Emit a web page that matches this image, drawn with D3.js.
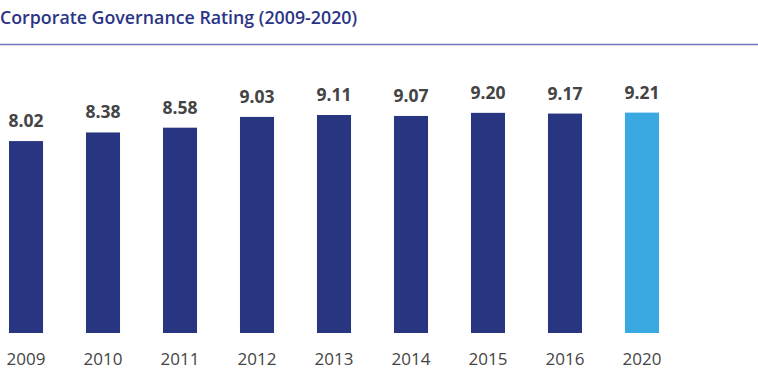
<!DOCTYPE html>
<html>
<head>
<meta charset="utf-8">
<script src="https://cdn.jsdelivr.net/npm/d3@7"></script>
<style>
  body { margin: 0; background: #fff; }
  text { font-family: "Open Sans", "Noto Sans", sans-serif; }
</style>
</head>
<body>
<div id="chart"></div>
<script>
const years = ["2009", "2010", "2011", "2012", "2013", "2014", "2015", "2016", "2020"];
const ratings = [8.02, 8.38, 8.58, 9.03, 9.11, 9.07, 9.20, 9.17, 9.21];
const highlightYear = "2020";

const width = 758, height = 372;
const baseY = 333;

const svg = d3.select("#chart").append("svg")
  .attr("width", width)
  .attr("height", height);

// title + rule
svg.append("text")
  .attr("x", 0)
  .attr("y", 24)
  .attr("fill", "#2b3585")
  .style("font-size", "17.8px")
  .style("font-weight", "600")
  .text("Corporate Governance Rating (2009-2020)");

svg.append("line")
  .attr("x1", 0).attr("x2", width)
  .attr("y1", 44.5).attr("y2", 44.5)
  .attr("stroke", "#7476bf")
  .attr("stroke-width", 1.5);

let x = d3.scaleBand()
  .domain(years)
  .range([9, 659])
  .paddingInner(0.558)
  .paddingOuter(0);

let y = d3.scaleLinear()
  .domain([0, 10])
  .range([baseY, baseY - 239.3]);

let bars = svg.selectAll(".bar")
  .data(years)
  .enter()
  .append("g")
  .attr("class", "bar");

bars.append("rect")
  .attr("x", d => x(d))
  .attr("width", x.bandwidth())
  .attr("y", (d, i) => y(ratings[i]))
  .attr("height", (d, i) => baseY - y(ratings[i]))
  .attr("fill", d => d === highlightYear ? "#3aa9e1" : "#283581");

bars.append("text")
  .text((d, i) => ratings[i].toFixed(2))
  .attr("x", d => x(d) + x.bandwidth() / 2)
  .attr("y", (d, i) => y(ratings[i]) - 14)
  .attr("text-anchor", "middle")
  .attr("fill", "#444")
  .style("font-size", "17.5px")
  .style("font-weight", "700");

bars.append("text")
  .text(d => d)
  .attr("x", d => x(d) + x.bandwidth() / 2)
  .attr("y", 365)
  .attr("text-anchor", "middle")
  .attr("fill", "#444")
  .style("font-size", "17px");
</script>
</body>
</html>
